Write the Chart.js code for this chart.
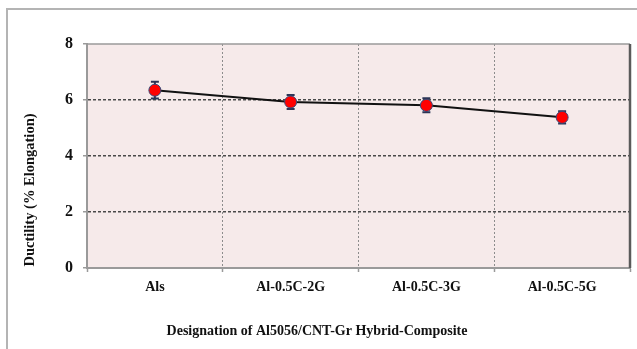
<!DOCTYPE html>
<html>
<head>
<meta charset="utf-8">
<script src="https://cdn.jsdelivr.net/npm/chart.js@4"></script>
<style>
  html, body { margin: 0; padding: 0; background: #ffffff; }
  #wrap { width: 637px; height: 349px; }
</style>
</head>
<body>
<div id="wrap"><canvas id="c" width="637" height="349"></canvas></div>
<script>
// Ductility of Al5056 / CNT-Gr hybrid composites
const categories = ['Als', 'Al-0.5C-2G', 'Al-0.5C-3G', 'Al-0.5C-5G'];
const ductility = [6.35, 5.93, 5.81, 5.38];
const ductilityError = [0.3, 0.25, 0.25, 0.22];
const yTicks = [0, 2, 4, 6, 8];
const xTitle = 'Designation of Al5056/CNT-Gr Hybrid-Composite';
const yTitle = 'Ductility (% Elongation)';

const SERIF = '"Liberation Serif", "Times New Roman", serif';

// outer frame, plot background and plot border
const framePlugin = {
  id: 'frame',
  beforeDraw(chart) {
    const { ctx, chartArea: a } = chart;
    ctx.save();
    ctx.fillStyle = '#ffffff';
    ctx.fillRect(0, 0, chart.width, chart.height);
    ctx.strokeStyle = '#b4b4b4';
    ctx.lineWidth = 2;
    ctx.strokeRect(7, 9, chart.width + 20, chart.height + 20);
    ctx.fillStyle = '#f6eaea';
    ctx.fillRect(a.left, a.top, a.right - a.left, a.bottom - a.top);
    ctx.restore();
  },
  beforeDatasetsDraw(chart) {
    const { ctx, chartArea: a } = chart;
    ctx.save();
    ctx.strokeStyle = '#9a9a9a';
    ctx.lineWidth = 1.5;
    ctx.beginPath();
    ctx.moveTo(a.left, a.top);
    ctx.lineTo(a.right, a.top);
    ctx.stroke();
    ctx.strokeStyle = '#5a5a5a';
    ctx.lineWidth = 2.5;
    ctx.beginPath();
    ctx.moveTo(a.right, a.top);
    ctx.lineTo(a.right, a.bottom);
    ctx.stroke();
    ctx.restore();
  }
};

// vertical error bars drawn from the data through the scales
const errorBarPlugin = {
  id: 'errorBars',
  beforeDatasetsDraw(chart) {
    const { ctx, scales } = chart;
    const meta = chart.getDatasetMeta(0);
    ctx.save();
    ctx.strokeStyle = '#2b3556';
    ctx.lineWidth = 2;
    meta.data.forEach((pt, i) => {
      const x = pt.x;
      const yHi = scales.y.getPixelForValue(ductility[i] + ductilityError[i]);
      const yLo = scales.y.getPixelForValue(ductility[i] - ductilityError[i]);
      ctx.beginPath();
      ctx.moveTo(x, yHi); ctx.lineTo(x, yLo);
      ctx.moveTo(x - 4, yHi); ctx.lineTo(x + 4, yHi);
      ctx.moveTo(x - 4, yLo); ctx.lineTo(x + 4, yLo);
      ctx.stroke();
    });
    ctx.restore();
  }
};

// axis titles
const titlePlugin = {
  id: 'axisTitles',
  afterDraw(chart) {
    const { ctx } = chart;
    ctx.save();
    ctx.fillStyle = '#111111';
    ctx.textAlign = 'center';
    ctx.textBaseline = 'middle';
    ctx.font = 'bold 14px ' + SERIF;
    ctx.fillText(xTitle, 317, 331);
    ctx.translate(30, 190);
    ctx.rotate(-Math.PI / 2);
    ctx.font = 'bold 14.5px ' + SERIF;
    ctx.fillText(yTitle, 0, 0);
    ctx.restore();
  }
};

new Chart(document.getElementById('c'), {
  type: 'line',
  data: {
    labels: categories,
    datasets: [{
      data: ductility,
      borderColor: '#111111',
      borderWidth: 2,
      pointRadius: 6,
      pointHoverRadius: 6,
      pointBackgroundColor: '#ff0000',
      pointBorderColor: '#3a4a7a',
      pointBorderWidth: 1,
      tension: 0
    }]
  },
  options: {
    responsive: false,
    animation: false,
    layout: { padding: { top: 44, right: 6, left: 0, bottom: 0 } },
    plugins: { legend: { display: false }, tooltip: { enabled: false } },
    scales: {
      x: {
        offset: true,
        grid: {
          offset: true,
          color: (c) => (c.index === 0 ? 'rgba(0,0,0,0)' : '#8c8c8c'),
          lineWidth: 1,
          drawTicks: true,
          tickLength: 4,
          tickColor: '#9a9a9a',
          tickWidth: 1.5
        },
        border: { display: true, color: '#9a9a9a', width: 2, dash: [2, 2] },
        ticks: {
          padding: 7,
          color: '#111111',
          font: { family: SERIF, size: 14, weight: 'bold' }
        },
        afterFit(s) { s.height = 81; }
      },
      y: {
        min: 0,
        max: 8,
        afterBuildTicks(s) { s.ticks = yTicks.map(v => ({ value: v })); },
        grid: {
          color: (c) => (c.tick && (c.tick.value === 0 || c.tick.value === 8) ? 'rgba(0,0,0,0)' : '#4a4a4a'),
          lineWidth: 1.5,
          drawTicks: true,
          tickLength: 4,
          tickColor: '#9a9a9a',
          tickWidth: 1.5
        },
        border: { display: true, color: '#9a9a9a', width: 2, dash: [3, 2] },
        ticks: {
          padding: 10,
          color: '#111111',
          font: { family: SERIF, size: 16, weight: 'bold' }
        },
        afterFit(s) { s.width = 87; }
      }
    }
  },
  plugins: [framePlugin, errorBarPlugin, titlePlugin]
});
</script>
</body>
</html>
